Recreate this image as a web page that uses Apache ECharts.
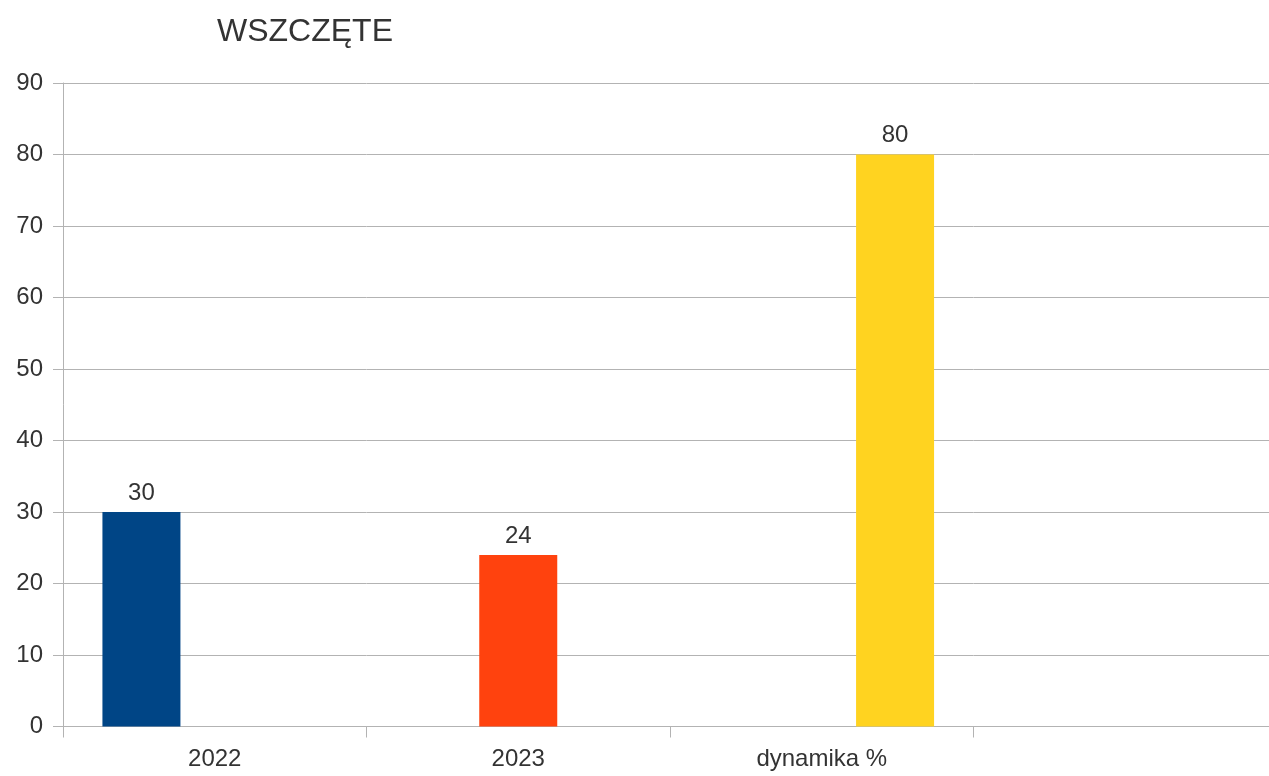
<!DOCTYPE html>
<html>
<head>
<meta charset="utf-8">
<title>WSZCZĘTE</title>
<script src="https://cdn.jsdelivr.net/npm/echarts@6/dist/echarts.min.js"></script>
<style>
  html, body { margin: 0; padding: 0; background: #ffffff; overflow: hidden; }
  /* the plot area runs a little past the right edge of the window, as in the original */
  #chart { width: 1280px; height: 776px; }
</style>
</head>
<body>
<div id="chart"></div>
<script>
// kategorie (czwarta pusta, jak w oryginale)
var categories = ['2022', '2023', 'dynamika %', ''];
// każda seria ma wartość tylko w swojej kategorii
var values2022 = [30, null, null, null];
var values2023 = [null, 24, null, null];
var valuesDynamika = [null, null, 80, null];
var yTicks = [0, 10, 20, 30, 40, 50, 60, 70, 80, 90];

var colors = ['#004586', '#ff420e', '#ffd320'];
var textColor = '#333333';
var lineColor = '#b3b3b3';
var font = 'Liberation Sans';

var chart = echarts.init(document.getElementById('chart'));

function barSeries(name, data, color) {
  return {
    name: name,
    type: 'bar',
    data: data,
    barWidth: 78,
    barGap: '-6%',
    itemStyle: { color: color },
    label: {
      show: true,
      position: 'top',
      distance: 7,
      color: textColor,
      fontFamily: font,
      fontSize: 24
    }
  };
}

var option = {
  animation: false,
  title: {
    text: 'WSZCZĘTE',
    left: 212,
    top: 11,
    textStyle: {
      color: textColor,
      fontFamily: font,
      fontWeight: 'normal',
      fontSize: 32
    }
  },
  grid: {
    left: 63,
    top: 83,
    width: 1214,
    height: 643.5,
    containLabel: false
  },
  xAxis: {
    type: 'category',
    data: categories,
    axisLine: { show: true, lineStyle: { color: lineColor } },
    axisTick: { show: true, length: 11, alignWithLabel: false, lineStyle: { color: lineColor } },
    axisLabel: {
      margin: 21,
      color: textColor,
      fontFamily: font,
      fontSize: 24
    }
  },
  yAxis: {
    type: 'value',
    min: yTicks[0],
    max: yTicks[yTicks.length - 1],
    interval: yTicks[1] - yTicks[0],
    axisLine: { show: true, lineStyle: { color: lineColor } },
    axisTick: { show: true, length: 10, lineStyle: { color: lineColor } },
    splitLine: { show: true, lineStyle: { color: lineColor } },
    axisLabel: {
      margin: 20,
      color: textColor,
      fontFamily: font,
      fontSize: 24
    }
  },
  series: [
    barSeries('2022', values2022, colors[0]),
    barSeries('2023', values2023, colors[1]),
    barSeries('dynamika %', valuesDynamika, colors[2])
  ]
};

chart.setOption(option);
</script>
</body>
</html>
